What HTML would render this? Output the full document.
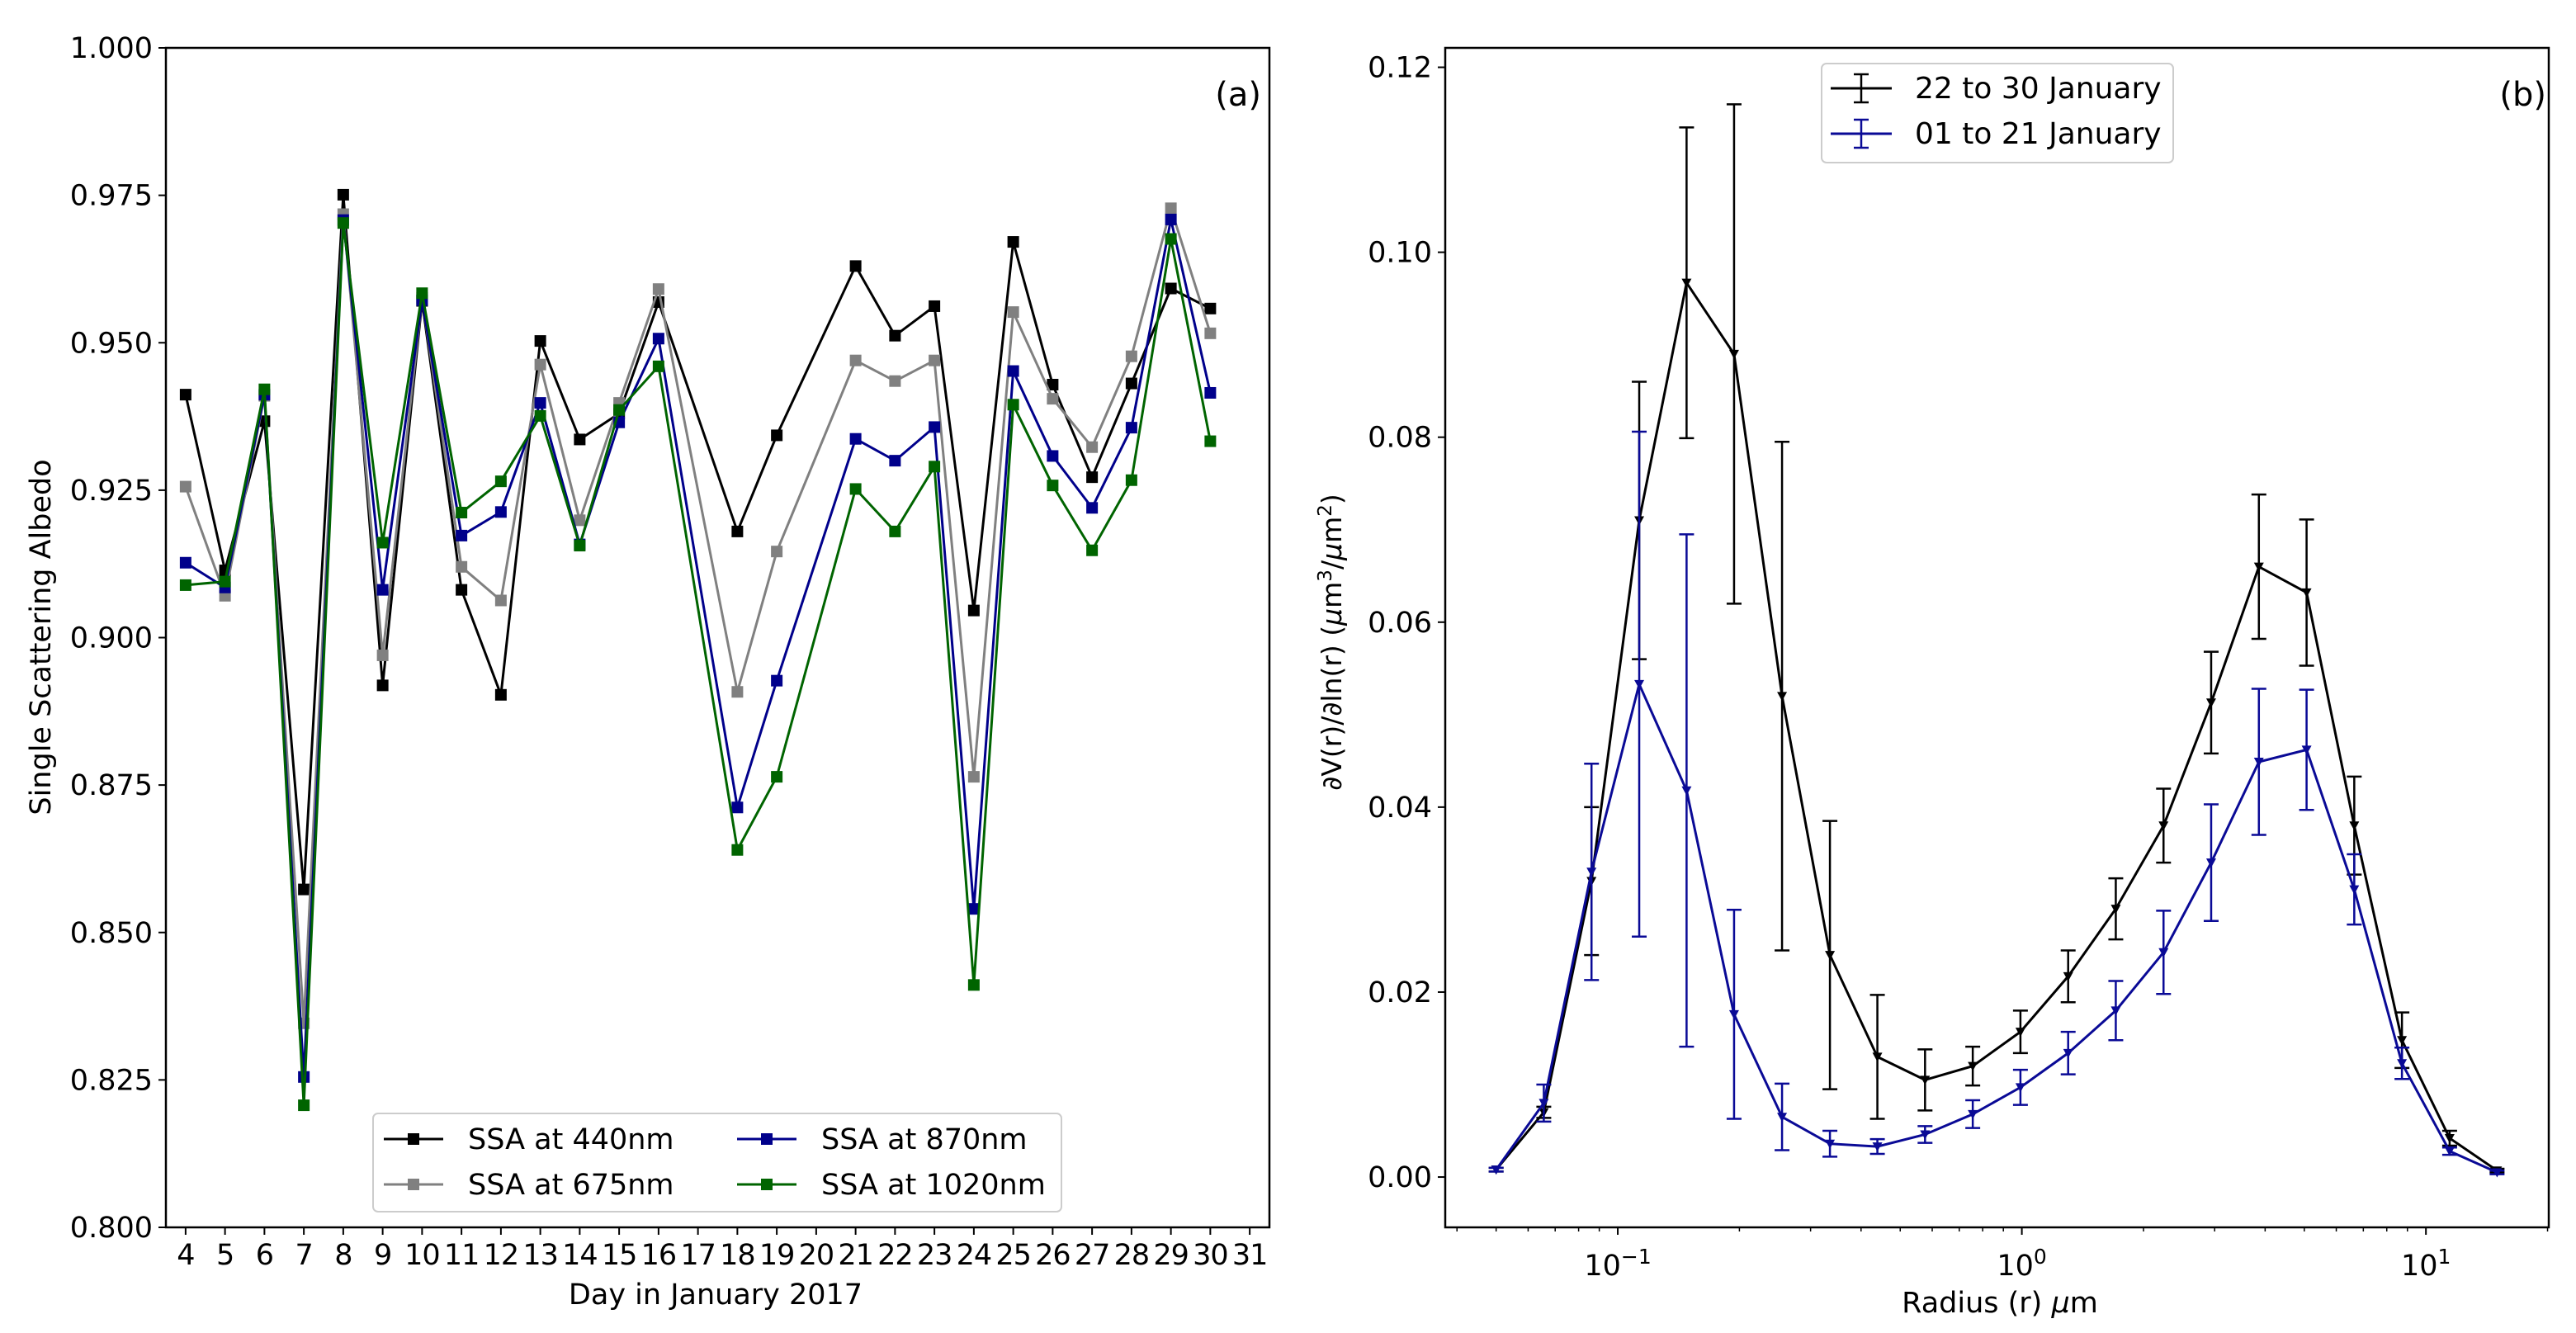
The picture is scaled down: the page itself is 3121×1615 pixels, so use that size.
<!DOCTYPE html>
<html><head><meta charset="utf-8">
<style>
html,body{margin:0;padding:0;background:#fff;}
svg{display:block;}
text{font-family:"DejaVu Sans","Liberation Sans",sans-serif;fill:#000;}
</style></head>
<body>
<svg id="fig" width="3121" height="1615" viewBox="0 0 3121 1615" xmlns="http://www.w3.org/2000/svg">
<g id="pa"></g>
<g id="pb"></g>
</svg>
<script>
// ---------- Panel (a) data ----------
const days = [4,5,6,7,8,9,10,11,12,13,14,15,16,18,19,21,22,23,24,25,26,27,28,29,30];
const ssa440 = [0.9412,0.9114,0.9367,0.8573,0.9751,0.8919,0.9571,0.9081,0.8903,0.9503,0.9336,0.9380,0.9569,0.9180,0.9343,0.9630,0.9512,0.9562,0.9046,0.9671,0.9429,0.9272,0.9431,0.9592,0.9558];
const ssa675 = [0.9256,0.9071,0.9410,0.8346,0.9718,0.8970,0.9576,0.9120,0.9063,0.9463,0.9199,0.9398,0.9591,0.8908,0.9146,0.9470,0.9435,0.9470,0.8764,0.9552,0.9405,0.9323,0.9477,0.9728,0.9516];
const ssa870 = [0.9127,0.9085,0.9412,0.8255,0.9708,0.9081,0.9572,0.9173,0.9213,0.9398,0.9158,0.9365,0.9507,0.8712,0.8927,0.9337,0.9300,0.9357,0.8540,0.9452,0.9308,0.9220,0.9356,0.9709,0.9415];
const ssa1020 = [0.9089,0.9095,0.9421,0.8207,0.9703,0.9161,0.9584,0.9212,0.9265,0.9376,0.9156,0.9386,0.9460,0.8640,0.8764,0.9252,0.9180,0.9290,0.8411,0.9395,0.9258,0.9148,0.9267,0.9676,0.9333];
const seriesNamesA = ["SSA at 440nm","SSA at 675nm","SSA at 870nm","SSA at 1020nm"];
const xTicksA = [4,5,6,7,8,9,10,11,12,13,14,15,16,17,18,19,20,21,22,23,24,25,26,27,28,29,30,31];
const yTicksA = [0.800,0.825,0.850,0.875,0.900,0.925,0.950,0.975,1.000];

// ---------- Panel (b) data ----------
const radius = [0.05,0.0656,0.0861,0.113,0.148,0.194,0.255,0.335,0.439,0.576,0.756,0.992,1.302,1.708,2.242,2.941,3.86,5.066,6.647,8.723,11.447,15.0];
const late = [0.0008,0.0070,0.0320,0.0710,0.0967,0.0890,0.0520,0.0240,0.0130,0.0105,0.0120,0.0157,0.0217,0.0290,0.0380,0.0513,0.0660,0.0632,0.0380,0.0148,0.0042,0.0007];
const lateErr = [0.0002,0.0006,0.0080,0.0150,0.0168,0.0270,0.0275,0.0145,0.0067,0.0033,0.0021,0.0023,0.0028,0.0033,0.0040,0.0055,0.0078,0.0079,0.0053,0.0030,0.0008,0.0002];
const early = [0.0008,0.0080,0.0330,0.0533,0.0418,0.0176,0.0065,0.0036,0.0033,0.0046,0.0068,0.0097,0.0134,0.0180,0.0243,0.0340,0.0449,0.0462,0.0311,0.0123,0.0028,0.0005];
const earlyErr = [0.0002,0.0020,0.0117,0.0273,0.0277,0.0113,0.0036,0.0014,0.0008,0.0009,0.0015,0.0019,0.0023,0.0032,0.0045,0.0063,0.0079,0.0065,0.0038,0.0017,0.0004,0.0002];
const yTicksB = [0.00,0.02,0.04,0.06,0.08,0.10,0.12];
const xTicksBexp = [-1,0,1];

const NS="http://www.w3.org/2000/svg";
function mk(parent,tag,attrs,txt){const e=document.createElementNS(NS,tag);for(const k in attrs)e.setAttribute(k,attrs[k]);if(txt!==undefined)e.textContent=txt;parent.appendChild(e);return e;}

// ===== Panel A =====
const pa=document.getElementById('pa');
const AL=201,AR=1538,AT=58,AB=1487;
const axA=v=>AL+(v-3.5)/(31.5-3.5)*(AR-AL);
const ayA=v=>AB-(v-0.8)/(1.0-0.8)*(AB-AT);
yTicksA.forEach(t=>{
  const y=ayA(t);
  const l=mk(pa,'line',{x1:AL-9,x2:AL,y1:y,y2:y,stroke:'#000','stroke-width':2});
  
  
  const tx=mk(pa,'text',{x:AL-16,y:y+12,'text-anchor':'end','font-size':35},t.toFixed(3));
  
  
});
xTicksA.forEach(t=>{
  const x=axA(t);
  const l=mk(pa,'line',{x1:x,x2:x,y1:AB,y2:AB+9,stroke:'#000','stroke-width':2});
  
  
  const tx=mk(pa,'text',{x:x,y:1532,'text-anchor':'middle','font-size':35,'letter-spacing':'-1'},String(t));
  
  
});
const colorsA=['#000000','#808080','#00008b','#006400'];
const seriesA=[ssa440,ssa675,ssa870,ssa1020];
seriesA.forEach((s,i)=>{
  const g=mk(pa,'g',{});
  
  
  const pts=days.map((d,j)=>axA(d).toFixed(1)+','+ayA(s[j]).toFixed(1)).join(' ');
  mk(g,'polyline',{points:pts,fill:'none',stroke:colorsA[i],'stroke-width':3});
  days.forEach((d,j)=>{
    const r=mk(g,'rect',{x:axA(d)-7,y:ayA(s[j])-7,width:14,height:14,fill:colorsA[i]});
    
    
  });
});
const frA=mk(pa,'rect',{x:AL,y:AT,width:AR-AL,height:AB-AT,fill:'none',stroke:'#000','stroke-width':2.5});


const lab=mk(pa,'text',{x:1528,y:128,'text-anchor':'end','font-size':40},'(a)');


const yla=mk(pa,'text',{x:0,y:0,'text-anchor':'middle','font-size':35,transform:'translate(61,772) rotate(-90)'},'Single Scattering Albedo');


const xla=mk(pa,'text',{x:867,y:1580,'text-anchor':'middle','font-size':35},'Day in January 2017');


// legend A
const lgA=mk(pa,'g',{});


mk(lgA,'rect',{x:452,y:1349,width:834,height:119,rx:6,fill:'#fff',stroke:'#ccc','stroke-width':2});
const legPos=[[465,1380],[465,1435],[893,1380],[893,1435]];
seriesNamesA.forEach((n,i)=>{
  const [x,y]=legPos[i];
  const e=mk(lgA,'g',{});
  
  
  mk(e,'line',{x1:x,x2:x+72,y1:y,y2:y,stroke:colorsA[i],'stroke-width':3});
  mk(e,'rect',{x:x+29,y:y-7,width:14,height:14,fill:colorsA[i]});
  mk(e,'text',{x:x+102,y:y+12,'font-size':35},n);
});

// ===== Panel B =====
const pb=document.getElementById('pb');
const BL=1751,BR=3088,BT=58,BB=1487;
const lmin=-1.427,lmax=1.304;
const axB=v=>BL+(Math.log10(v)-lmin)/(lmax-lmin)*(BR-BL);
const ymin=-0.00544,ymax=0.1221;
const ayB=v=>BB-(v-ymin)/(ymax-ymin)*(BB-BT);
yTicksB.forEach(t=>{
  const y=ayB(t);
  const l=mk(pb,'line',{x1:BL-9,x2:BL,y1:y,y2:y,stroke:'#000','stroke-width':2});
  
  
  const tx=mk(pb,'text',{x:BL-16,y:y+12,'text-anchor':'end','font-size':35},t.toFixed(2));
  
  
});
for(let d=-2;d<=1;d++){for(let m=1;m<10;m++){
  const v=m*Math.pow(10,d);const x=axB(v);
  if(x<BL||x>BR)continue;
  const major=(m===1);
  mk(pb,'line',{x1:x,x2:x,y1:BB,y2:BB+(major?9:5),stroke:'#000','stroke-width':major?2:1.5});
}}
xTicksBexp.forEach(e=>{
  const x=axB(Math.pow(10,e));
  const t=mk(pb,'text',{x:x,y:1545,'text-anchor':'middle','font-size':35});
  
  
  const s1=document.createElementNS(NS,'tspan');s1.textContent='10';t.appendChild(s1);
  const s2=document.createElementNS(NS,'tspan');s2.setAttribute('dy','-14');s2.setAttribute('font-size','25');s2.textContent=(e<0?'\u2212':'')+Math.abs(e);t.appendChild(s2);
});
function drawSeries(name,vals,errs,col){
  const g=mk(pb,'g',{});
  
  
  radius.forEach((r,j)=>{
    const x=axB(r),y1=ayB(vals[j]-errs[j]),y2=ayB(vals[j]+errs[j]);
    const eb=mk(g,'g',{stroke:col,'stroke-width':2.5});
    
    
    mk(eb,'line',{x1:x,x2:x,y1:y1,y2:y2});
    mk(eb,'line',{x1:x-9,x2:x+9,y1:y1,y2:y1});
    mk(eb,'line',{x1:x-9,x2:x+9,y1:y2,y2:y2});
  });
  const pts=radius.map((r,j)=>axB(r).toFixed(1)+','+ayB(vals[j]).toFixed(1)).join(' ');
  mk(g,'polyline',{points:pts,fill:'none',stroke:col,'stroke-width':3});
  radius.forEach((r,j)=>{
    const x=axB(r),y=ayB(vals[j]);
    const m=mk(g,'polygon',{points:`${x-6},${y-5} ${x+6},${y-5} ${x},${y+6}`,fill:col});
    
    
  });
}
drawSeries('series-22-30-january',late,lateErr,'#000000');
drawSeries('series-01-21-january',early,earlyErr,'#0a0a96');
const frB=mk(pb,'rect',{x:BL,y:BT,width:BR-BL,height:BB-BT,fill:'none',stroke:'#000','stroke-width':2.5});


const labb=mk(pb,'text',{x:3085,y:128,'text-anchor':'end','font-size':40},'(b)');


const ylb=mk(pb,'text',{x:0,y:0,'text-anchor':'middle','font-size':33,transform:'translate(1625,778) rotate(-90)'});


ylb.innerHTML='∂V(r)/∂ln(r) (<tspan font-style="italic">μ</tspan>m<tspan dy="-12" font-size="23">3</tspan><tspan dy="12">/</tspan><tspan font-style="italic">μ</tspan>m<tspan dy="-12" font-size="23">2</tspan><tspan dy="12">)</tspan>';
const xlb=mk(pb,'text',{x:2423,y:1590,'text-anchor':'middle','font-size':35});


xlb.innerHTML='Radius (r) <tspan font-style="italic">μ</tspan>m';
// legend B
const lgB=mk(pb,'g',{});


mk(lgB,'rect',{x:2207,y:77,width:426,height:120,rx:6,fill:'#fff',stroke:'#ccc','stroke-width':2});
[['22 to 30 January','#000000',107],['01 to 21 January','#0a0a96',162]].forEach(([n,c,y])=>{
  const e=mk(lgB,'g',{});
  
  
  mk(e,'line',{x1:2218,x2:2292,y1:y,y2:y,stroke:c,'stroke-width':3});
  mk(e,'line',{x1:2255,x2:2255,y1:y-17,y2:y+17,stroke:c,'stroke-width':2.5});
  mk(e,'line',{x1:2246,x2:2264,y1:y-17,y2:y-17,stroke:c,'stroke-width':2.5});
  mk(e,'line',{x1:2246,x2:2264,y1:y+17,y2:y+17,stroke:c,'stroke-width':2.5});
  mk(e,'text',{x:2320,y:y+12,'font-size':36},n);
});
</script>
</body></html>
